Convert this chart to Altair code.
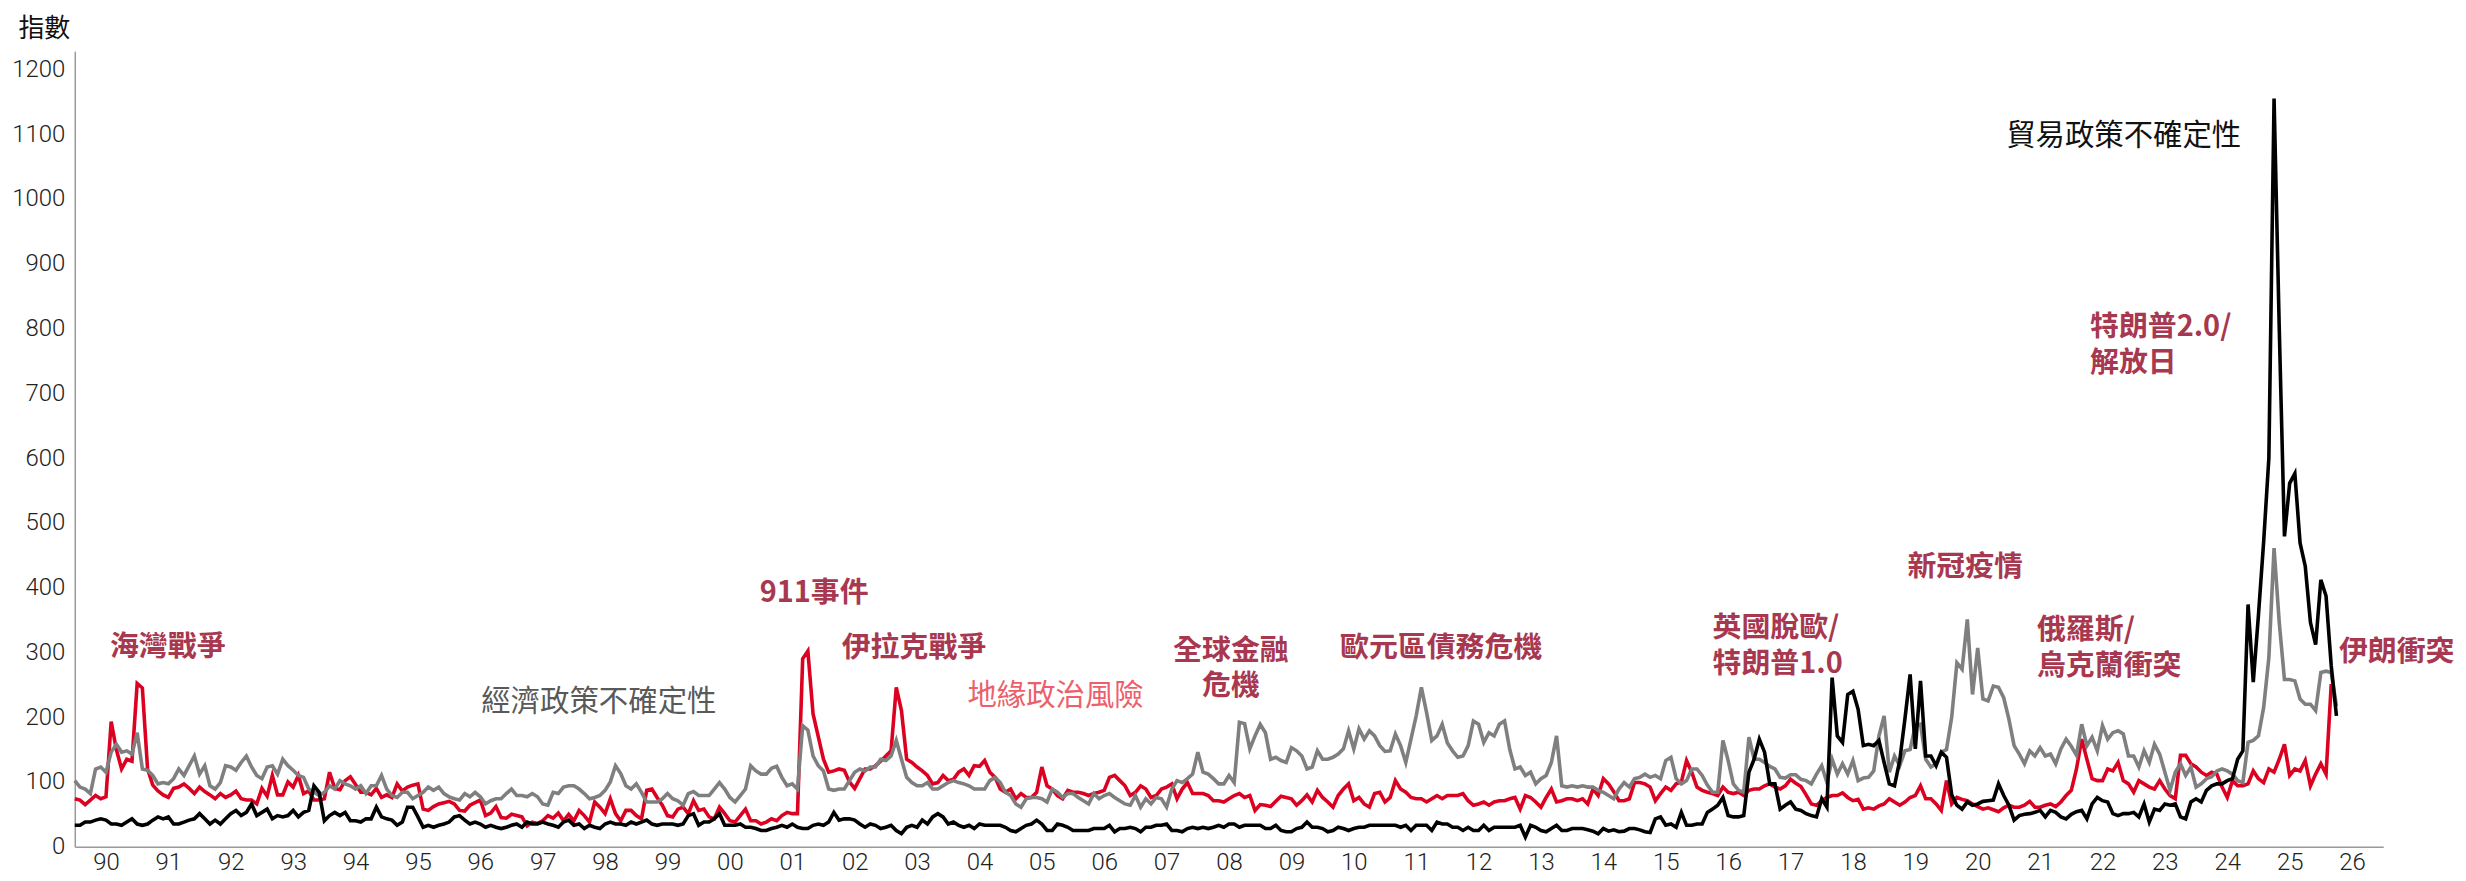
import altair as alt
import pandas as pd

# ---- monthly values, one list per calendar year, starting Jan 1990 ----
trade_policy = [
    [33, 33, 38, 38, 41, 43, 41, 35, 35, 33, 38, 43],
    [35, 33, 35, 41, 46, 43, 46, 35, 35, 38, 41, 43],
    [51, 43, 35, 41, 35, 43, 51, 56, 48, 53, 66, 48],
    [53, 58, 43, 48, 46, 48, 56, 46, 53, 56, 94, 84],
    [40, 48, 53, 48, 53, 40, 40, 38, 43, 43, 61, 46],
    [43, 41, 33, 38, 61, 61, 46, 30, 33, 30, 33, 35],
    [38, 46, 48, 41, 35, 38, 35, 30, 33, 30, 28, 30],
    [33, 35, 30, 38, 35, 35, 38, 35, 33, 30, 38, 41],
    [33, 35, 28, 33, 30, 28, 35, 38, 35, 35, 33, 38],
    [35, 38, 41, 35, 33, 35, 35, 35, 33, 35, 48, 51],
    [33, 38, 38, 43, 51, 33, 33, 33, 35, 30, 30, 28],
    [25, 25, 28, 30, 33, 30, 35, 30, 28, 28, 33, 35],
    [33, 38, 53, 41, 43, 43, 41, 35, 30, 35, 33, 28],
    [30, 33, 25, 20, 30, 33, 30, 41, 35, 46, 51, 46],
    [35, 38, 33, 30, 33, 28, 35, 33, 33, 33, 33, 30],
    [25, 23, 28, 33, 35, 41, 35, 25, 25, 35, 33, 30],
    [25, 25, 25, 25, 28, 28, 28, 33, 23, 28, 28, 30],
    [28, 23, 30, 30, 33, 33, 35, 25, 25, 23, 28, 30],
    [28, 30, 28, 30, 33, 30, 35, 35, 30, 33, 33, 33],
    [33, 28, 28, 33, 25, 23, 23, 28, 30, 38, 30, 30],
    [28, 23, 25, 30, 28, 25, 28, 30, 30, 33, 33, 33],
    [33, 33, 33, 30, 33, 25, 33, 33, 33, 25, 38, 35],
    [35, 30, 30, 25, 30, 25, 25, 33, 25, 30, 30, 30],
    [30, 30, 33, 15, 33, 30, 25, 23, 28, 33, 25, 25],
    [28, 28, 28, 26, 24, 20, 28, 24, 26, 23, 24, 28],
    [28, 26, 23, 22, 43, 46, 33, 35, 30, 53, 33, 33],
    [35, 35, 53, 58, 64, 76, 48, 46, 46, 48, 115, 135],
    [166, 146, 97, 97, 58, 64, 69, 58, 56, 51, 48, 46],
    [74, 61, 261, 171, 161, 235, 240, 212, 156, 158, 156, 164],
    [130, 97, 94, 133, 197, 266, 151, 256, 140, 140, 125, 146],
    [138, 80, 64, 58, 69, 64, 66, 70, 71, 72, 97, 79],
    [64, 41, 48, 50, 51, 53, 56, 46, 56, 53, 46, 43],
    [50, 54, 56, 43, 66, 76, 71, 69, 51, 48, 51, 51],
    [53, 46, 66, 38, 58, 56, 66, 64, 66, 46, 43, 69],
    [74, 69, 87, 94, 97, 97, 102, 105, 135, 148, 374, 254],
    [358, 471, 600, 1155, 800, 479, 561, 576, 469, 433, 346, 312],
    [412, 387, 279, 202],
]

econ_policy = [
    [102, 92, 89, 82, 120, 123, 115, 146, 158, 146, 148, 143],
    [176, 120, 118, 110, 97, 99, 97, 105, 120, 110, 125, 140],
    [112, 125, 94, 89, 99, 125, 123, 118, 130, 140, 123, 110],
    [105, 123, 125, 112, 135, 125, 118, 110, 107, 89, 84, 79],
    [84, 94, 89, 102, 97, 94, 89, 94, 82, 94, 94, 110],
    [89, 79, 76, 84, 84, 74, 79, 84, 92, 87, 92, 82],
    [77, 74, 72, 82, 77, 84, 77, 66, 71, 74, 74, 82],
    [89, 79, 79, 77, 82, 77, 66, 64, 84, 82, 92, 94],
    [94, 89, 82, 74, 76, 79, 87, 100, 125, 113, 94, 89],
    [97, 84, 69, 69, 69, 74, 82, 74, 71, 64, 82, 85],
    [79, 79, 79, 89, 99, 89, 76, 69, 79, 89, 125, 117],
    [112, 112, 121, 124, 107, 94, 97, 89, 187, 180, 140, 125],
    [117, 89, 87, 89, 89, 102, 115, 120, 117, 123, 123, 135],
    [133, 140, 164, 135, 107, 99, 94, 94, 99, 89, 89, 94],
    [99, 102, 99, 97, 94, 89, 89, 89, 102, 107, 99, 84],
    [79, 66, 61, 74, 76, 76, 74, 69, 89, 84, 76, 82],
    [82, 76, 71, 66, 82, 74, 79, 82, 76, 71, 66, 64],
    [79, 61, 74, 66, 76, 74, 61, 89, 102, 99, 105, 112],
    [146, 115, 112, 105, 97, 97, 110, 99, 192, 190, 151, 171],
    [189, 176, 135, 138, 133, 130, 153, 148, 140, 120, 123, 148],
    [135, 135, 138, 143, 151, 179, 151, 182, 166, 179, 171, 156],
    [147, 148, 174, 156, 130, 166, 202, 246, 207, 164, 171, 189],
    [160, 148, 138, 140, 156, 194, 189, 161, 176, 171, 189, 194],
    [150, 120, 123, 110, 115, 97, 105, 110, 130, 171, 94, 92],
    [94, 92, 94, 92, 92, 87, 84, 79, 74, 89, 99, 92],
    [105, 107, 112, 107, 110, 105, 133, 138, 105, 97, 102, 120],
    [120, 110, 95, 84, 84, 164, 133, 97, 87, 84, 169, 135],
    [135, 130, 124, 120, 107, 106, 111, 111, 104, 102, 97, 112],
    [125, 99, 135, 112, 128, 112, 133, 102, 106, 107, 117, 171],
    [202, 115, 140, 125, 148, 150, 187, 189, 135, 123, 128, 146],
    [150, 200, 284, 274, 351, 235, 307, 228, 225, 248, 246, 230],
    [197, 156, 143, 128, 148, 140, 153, 140, 143, 128, 151, 166],
    [155, 141, 189, 156, 169, 148, 187, 166, 176, 179, 174, 140],
    [140, 123, 148, 130, 158, 143, 115, 87, 115, 128, 110, 123],
    [92, 97, 105, 108, 117, 120, 117, 112, 102, 99, 161, 164],
    [171, 215, 292, 461, 346, 258, 258, 256, 228, 220, 220, 210],
    [269, 271, 269, 217],
]

geo_risk = [
    [74, 72, 65, 72, 79, 74, 77, 193, 150, 120, 135, 132],
    [252, 245, 120, 95, 86, 80, 76, 90, 92, 97, 90, 82],
    [92, 85, 80, 74, 82, 76, 80, 86, 74, 72, 72, 66],
    [90, 78, 110, 80, 80, 100, 92, 110, 82, 86, 72, 72],
    [74, 115, 90, 88, 102, 108, 96, 84, 84, 80, 90, 76],
    [80, 76, 97, 86, 92, 95, 97, 58, 56, 62, 66, 68],
    [70, 66, 56, 55, 64, 68, 72, 48, 52, 62, 45, 44],
    [50, 48, 46, 32, 38, 36, 40, 48, 44, 52, 40, 50],
    [40, 56, 48, 38, 69, 61, 51, 74, 51, 40, 56, 56],
    [48, 43, 87, 89, 76, 64, 48, 46, 58, 61, 51, 71],
    [56, 58, 46, 43, 61, 51, 40, 38, 48, 58, 40, 40],
    [35, 38, 43, 40, 48, 53, 51, 51, 290, 302, 205, 170],
    [135, 115, 117, 120, 118, 100, 90, 105, 120, 120, 125, 132],
    [140, 148, 246, 210, 135, 130, 123, 117, 110, 97, 99, 110],
    [102, 104, 115, 120, 110, 125, 124, 133, 115, 107, 89, 84],
    [89, 74, 82, 76, 76, 84, 123, 94, 89, 79, 74, 87],
    [84, 84, 82, 79, 82, 84, 87, 107, 110, 102, 94, 79],
    [84, 94, 89, 76, 79, 89, 92, 97, 74, 89, 99, 82],
    [82, 82, 79, 71, 71, 69, 74, 79, 82, 76, 79, 56],
    [65, 64, 62, 70, 78, 76, 74, 64, 71, 80, 69, 87],
    [76, 69, 61, 79, 89, 97, 71, 76, 66, 61, 82, 84],
    [69, 76, 102, 89, 84, 76, 74, 74, 69, 74, 79, 74],
    [79, 79, 79, 82, 71, 64, 66, 69, 64, 69, 71, 71],
    [74, 76, 58, 79, 76, 69, 61, 76, 89, 69, 71, 74],
    [74, 71, 74, 66, 89, 79, 105, 97, 85, 71, 71, 74],
    [99, 99, 97, 92, 71, 82, 92, 87, 97, 100, 133, 115],
    [92, 87, 84, 82, 79, 92, 84, 82, 84, 79, 87, 89],
    [89, 94, 97, 92, 89, 94, 104, 98, 93, 80, 66, 64],
    [71, 76, 79, 79, 83, 76, 71, 73, 58, 60, 58, 63],
    [66, 74, 69, 64, 69, 76, 79, 94, 74, 74, 66, 56],
    [102, 66, 76, 73, 71, 66, 62, 58, 60, 57, 54, 60],
    [64, 61, 61, 64, 70, 61, 61, 64, 66, 62, 69, 79],
    [87, 120, 166, 135, 105, 102, 102, 120, 117, 130, 102, 97],
    [84, 102, 97, 92, 89, 102, 89, 79, 74, 141, 141, 128],
    [123, 115, 110, 115, 112, 92, 76, 102, 94, 94, 97, 117],
    [105, 99, 120, 115, 135, 158, 110, 120, 117, 133, 94, 112],
    [128, 112, 251],
]

first_year = 1990
year_ticks = [y + 0.5 for y in range(1990, 2027)]
y_ticks = list(range(0, 1201, 100))

# event annotations (bold, dark rose); "\n" splits a label into two lines,
# y is the position of the first line
ev_center_text = ["海灣戰爭", "911事件", "伊拉克戰爭", "全球金融\n危機", "歐元區債務危機", "新冠疫情"]
ev_center_x = [1991.49, 2001.85, 2003.45, 2008.53, 2011.90, 2020.30]
ev_center_y = [309, 392, 306, 302, 306, 431]

ev_left_text = ["英國脫歐/\n特朗普1.0", "俄羅斯/\n烏克蘭衝突", "特朗普2.0/\n解放日", "伊朗衝突"]
ev_left_x = [2016.25, 2021.45, 2022.30, 2026.29]
ev_left_y = [338, 335, 802, 300]

# series name labels
name_text = ["經濟政策不確定性", "地緣政治風險", "貿易政策不確定性"]
name_x = [1998.40, 2005.72, 2022.84]
name_y = [223, 233, 1097]
name_color = ["#595959", "#ec5f6b", "#111111"]


def to_frame(series):
    rows = []
    for yi, vals in enumerate(series):
        for mi, v in enumerate(vals):
            rows.append({"t": first_year + yi + mi / 12.0, "v": v})
    return pd.DataFrame(rows)


df_tpu = to_frame(trade_policy)
df_epu = to_frame(econ_policy)
df_gpr = to_frame(geo_risk)

FONT = "Noto Sans CJK TC"
ANN = "#a8384f"

x_scale = alt.Scale(domain=[1990, 2027], nice=False, zero=False)
y_scale = alt.Scale(domain=[0, 1228], nice=False)

x_axis = alt.Axis(
    values=year_ticks,
    labelExpr="substring(toString(floor(datum.value)), 2, 4)",
    ticks=False, grid=False, title=None,
    domainColor="#9a9a9a", domainWidth=1.5,
    labelFont="Roboto", labelFontSize=24, labelFontWeight=300, labelColor="#222222",
    labelPadding=4, labelFlush=False, labelOverlap=False,
)
y_axis = alt.Axis(
    values=y_ticks, format="d", ticks=False, grid=False,
    domainColor="#9a9a9a", domainWidth=1.5,
    labelFont="Roboto", labelFontSize=24, labelFontWeight=300, labelColor="#222222",
    labelPadding=10, labelOverlap=False,
    title="指數", titleAngle=0, titleX=-57, titleY=-23,
    titleAlign="left", titleBaseline="middle",
    titleFont=FONT, titleFontSize=26, titleFontWeight="normal", titleColor="#111111",
)


def line(df, color):
    return alt.Chart(df).mark_line(color=color, strokeWidth=3.6).encode(
        x=alt.X("t:Q", scale=x_scale, axis=x_axis),
        y=alt.Y("v:Q", scale=y_scale, axis=y_axis),
    )


lines = line(df_gpr, "#dc0021") + line(df_epu, "#7f7f7f") + line(df_tpu, "#000000")

ev_c = alt.Chart(pd.DataFrame({"x": ev_center_x, "y": ev_center_y, "s": ev_center_text})).mark_text(
    font=FONT, fontSize=29, fontWeight="bold", color=ANN, align="center", baseline="middle",
    lineBreak="\n", lineHeight=35,
).encode(x=alt.X("x:Q", scale=x_scale), y=alt.Y("y:Q", scale=y_scale), text="s:N")

ev_l = alt.Chart(pd.DataFrame({"x": ev_left_x, "y": ev_left_y, "s": ev_left_text})).mark_text(
    font=FONT, fontSize=29, fontWeight="bold", color=ANN, align="left", baseline="middle",
    lineBreak="\n", lineHeight=36,
).encode(x=alt.X("x:Q", scale=x_scale), y=alt.Y("y:Q", scale=y_scale), text="s:N")

names = alt.Chart(pd.DataFrame({"x": name_x, "y": name_y, "s": name_text, "c": name_color})).mark_text(
    font=FONT, fontSize=29.5, fontWeight="normal", align="center", baseline="middle"
).encode(
    x=alt.X("x:Q", scale=x_scale), y=alt.Y("y:Q", scale=y_scale), text="s:N",
    color=alt.Color("c:N", scale=None),
)

chart = (lines + ev_c + ev_l + names).properties(
    width=2316, height=798,
    autosize=alt.AutoSizeParams(type="none"),
    padding={"left": 67, "top": 42, "right": 75, "bottom": 33},
    background="white",
).configure_view(stroke=None)

chart.save("out.html", embed_options={"renderer": "svg", "actions": False})
